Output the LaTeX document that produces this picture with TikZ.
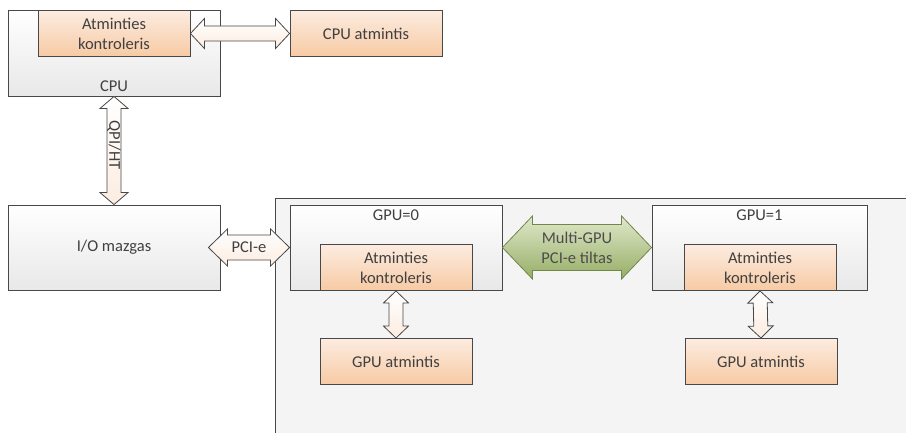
\documentclass[tikz,border=0pt]{standalone}
\usepackage{fontspec}
\setmainfont{Carlito}
\usepackage{tikz}
\usetikzlibrary{positioning,calc}
\definecolor{textgray}{RGB}{64,64,64}
\definecolor{linegray}{RGB}{72,72,72}
\definecolor{boxbot}{RGB}{232,232,232}
\definecolor{memtop}{RGB}{252,236,224}
\definecolor{membot}{RGB}{247,202,164}
\definecolor{bridgetop}{RGB}{224,232,202}
\definecolor{bridgebot}{RGB}{150,174,102}
\definecolor{bridgeline}{RGB}{112,134,74}
\definecolor{panelgray}{RGB}{244,244,244}

% double block arrow: [style]{from}{to}{shaft half}{head half}{head length}
\newcommand{\dblarrow}[6][]{%
  \coordinate (da1) at ($(#2)!#6!(#3)$);
  \coordinate (da2) at ($(#3)!#6!(#2)$);
  \draw[#1] (#2) -- ($(da1)!#5!90:(#3)$) -- ($(da1)!#4!90:(#3)$)
    -- ($(da2)!#4!-90:(#2)$) -- ($(da2)!#5!-90:(#2)$) -- (#3)
    -- ($(da2)!#5!90:(#2)$) -- ($(da2)!#4!90:(#2)$)
    -- ($(da1)!#4!-90:(#3)$) -- ($(da1)!#5!-90:(#3)$) -- cycle;
}

\begin{document}
\begin{tikzpicture}[
        x=1pt, y=-1pt,
        every node/.style={font=\fontsize{16.5}{20}\selectfont, text=textgray},
        graybox/.style={rectangle, draw=linegray, line width=0.9pt, top color=white, bottom color=boxbot, minimum width=212, minimum height=85},
        membox/.style={rectangle, draw=linegray, line width=0.9pt, top color=memtop, bottom color=membot, minimum width=152, minimum height=46, align=center},
        panel/.style={rectangle, draw=linegray, line width=1pt, fill=panelgray},
        bigarrow/.style={draw=linegray, line width=0.8pt, top color=white, bottom color=memtop},
        bridge/.style={draw=bridgeline, line width=0.8pt, top color=bridgetop, bottom color=bridgebot}
    ]
        \clip (0,0) rectangle (906,432);
        \fill[white] (0,0) rectangle (906,432);

        % GPU board
        \node[panel, anchor=north west, minimum width=660, minimum height=260] (board) at (275,198) {};

        % CPU side
        \node[graybox, minimum height=86] (cpu) at (114,53) {};
        \node[above=1pt of cpu.south] (cpulbl) {CPU};
        \node[membox] (cpumc) at (114,33.5) {Atminties\\kontroleris};
        \node[membox] (cpumem) at (366,33.5) {CPU atmintis};
        \node[graybox] (io) at (114,247.5) {I/O mazgas};

        % GPU=0
        \node[graybox] (gpu0) at (396,247.5) {};
        \node[below=2pt of gpu0.north] (gpu0lbl) {GPU=0};
        \node[membox] (gpu0mc) at (396,267.5) {Atminties\\kontroleris};
        \node[membox] (gpu0mem) at (396,361.5) {GPU atmintis};

        % GPU=1
        \node[graybox, minimum width=215] (gpu1) at (759.5,247.5) {};
        \node[below=2pt of gpu1.north] (gpu1lbl) {GPU=1};
        \node[membox] (gpu1mc) at (760,267.5) {Atminties\\kontroleris};
        \node[membox] (gpu1mem) at (761,361.5) {GPU atmintis};

        % connections
        \dblarrow[bigarrow]{cpumc.east}{cpumem.west}{7.5pt}{15pt}{14pt}
        \dblarrow[bigarrow]{cpu.south}{io.north}{7pt}{14pt}{12pt}
        \node[rotate=-90] (qpi) at ($(cpu.south)!0.45!(io.north)$) {QPI/HT};
        \coordinate (pcistart) at ($(io.east)+(-12,0)$);
        \dblarrow[bigarrow]{pcistart}{gpu0.west}{12.5pt}{18.5pt}{19pt}
        \node (pci) at ($(pcistart)!0.5!(gpu0.west)$) {PCI-e};
        \dblarrow[bridge]{gpu0.east}{gpu1.west}{23pt}{31.5pt}{30pt}
        \node[align=center, text=black!70] (sli) at ($(gpu0.east)!0.5!(gpu1.west)$) {Multi-GPU\\PCI-e tiltas};
        \dblarrow[bigarrow]{gpu0mc.south}{gpu0mem.north}{7pt}{12.5pt}{12pt}
        \dblarrow[bigarrow]{gpu1mc.south}{gpu1mem.north}{7pt}{12.5pt}{12pt}
    \end{tikzpicture}
\end{document}
